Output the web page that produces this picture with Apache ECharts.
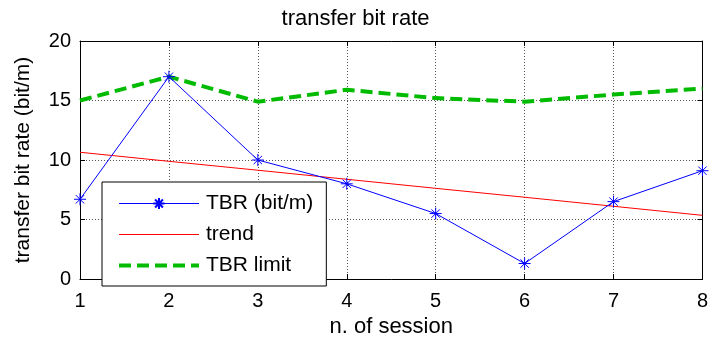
<!DOCTYPE html>
<html><head><meta charset="utf-8">
<script src="https://cdn.jsdelivr.net/npm/echarts@6/dist/echarts.min.js"></script>
<style>html,body{margin:0;padding:0;background:#fff}#c{width:711px;height:344px}</style>
</head><body><div id="c"></div>
<script>
const sessions = [1, 2, 3, 4, 5, 6, 7, 8];
const tbr = [6.7, 17.0, 10.0, 8.0, 5.5, 1.3, 6.5, 9.1];
const trend = [10.65, 9.89, 9.14, 8.38, 7.62, 6.87, 6.11, 5.35];
const tbrLimit = [15.0, 17.0, 14.9, 15.9, 15.2, 14.9, 15.5, 16.0];
const xTicks = [1, 2, 3, 4, 5, 6, 7, 8];
const yTicks = [0, 5, 10, 15, 20];

const font = 'Liberation Sans, Arial, sans-serif';
const star = 'path://M0,-10L0,10M-10,0L10,0M-7,-7L7,7M-7,7L7,-7';
const pair = (ys) => sessions.map((x, i) => [x, ys[i]]);

const chart = echarts.init(document.getElementById('c'), null, {renderer: 'canvas'});
const axisCommon = {
  axisLine: {show: true, onZero: false, lineStyle: {color: '#000', width: 1}},
  axisTick: {show: true, inside: true, length: 5, lineStyle: {color: '#000'}},
};
chart.setOption({
  animation: false,
  backgroundColor: '#fff',
  title: {text: 'transfer bit rate', left: 'center', top: 3,
    textStyle: {fontFamily: font, fontSize: 22, fontWeight: 'normal', color: '#000'}},
  grid: {left: 80, right: 6, top: 41, bottom: 65},
  legend: {
    orient: 'vertical', left: 102, top: 182,
    backgroundColor: '#fff', borderColor: '#000', borderWidth: 1,
    padding: [11, 13, 10, 15], itemGap: 10, itemWidth: 80, itemHeight: 14,
    textStyle: {fontFamily: font, fontSize: 21, color: '#000', padding: [0, 0, 0, 2]},
    data: [
      {name: 'TBR (bit/m)', lineStyle: {width: 1}},
      {name: 'trend', itemStyle: {opacity: 0}, lineStyle: {width: 1}},
      {name: 'TBR limit', itemStyle: {opacity: 0}, lineStyle: {width: 4}}
    ]
  },
  xAxis: [
    Object.assign({type: 'value', min: 1, max: 8, interval: 1, position: 'bottom',
      name: 'n. of session', nameLocation: 'middle', nameGap: 37,
      nameTextStyle: {fontFamily: font, fontSize: 22, color: '#000'},
      axisLabel: {fontFamily: font, fontSize: 20, color: '#000', margin: 12,
        formatter: v => xTicks.includes(v) ? String(v) : ''},
      splitLine: {show: true, lineStyle: {color: '#555', type: [1, 2], width: 1}}}, axisCommon),
    Object.assign({type: 'value', min: 1, max: 8, interval: 1, position: 'top',
      axisLabel: {show: false}, splitLine: {show: false}}, axisCommon)
  ],
  yAxis: [
    Object.assign({type: 'value', min: 0, max: 20, interval: 5, position: 'left',
      name: 'transfer bit rate (bit/m)', nameLocation: 'middle', nameGap: 46, nameRotate: 90,
      nameTextStyle: {fontFamily: font, fontSize: 21, color: '#000'},
      axisLabel: {fontFamily: font, fontSize: 20, color: '#000', margin: 9,
        formatter: v => yTicks.includes(v) ? String(v) : ''},
      splitLine: {show: true, lineStyle: {color: '#555', type: [1, 2], width: 1}}}, axisCommon),
    Object.assign({type: 'value', min: 0, max: 20, interval: 5, position: 'right',
      axisLabel: {show: false}, splitLine: {show: false}}, axisCommon)
  ],
  series: [
    {name: 'TBR (bit/m)', type: 'line', data: pair(tbr), z: 4,
      symbol: star, symbolSize: 12, showAllSymbol: true,
      lineStyle: {color: '#0000ff', width: 1},
      itemStyle: {color: 'rgba(0,0,0,0)', borderColor: '#0000ff', borderWidth: 1}},
    {name: 'trend', type: 'line', data: pair(trend), symbol: 'none', z: 3,
      lineStyle: {color: '#ff0000', width: 1}, itemStyle: {color: '#ff0000'}},
    {name: 'TBR limit', type: 'line', data: pair(tbrLimit), symbol: 'none', z: 3,
      lineStyle: {color: '#00bb00', width: 4, type: [12, 6]}, itemStyle: {color: '#00bb00'}}
  ]
});
</script></body></html>
